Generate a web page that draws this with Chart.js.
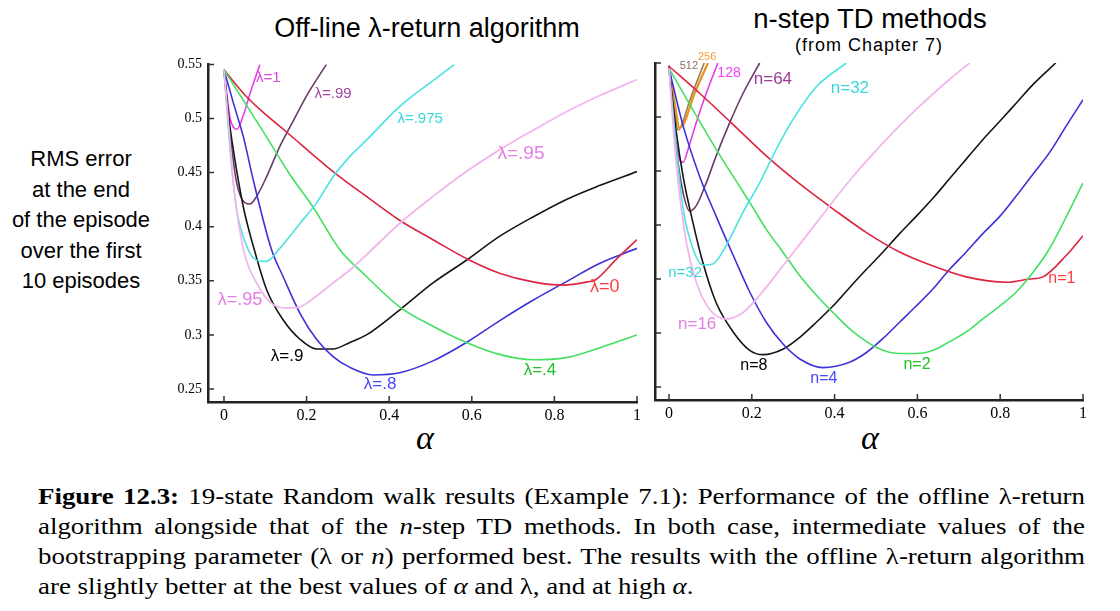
<!DOCTYPE html>
<html>
<head>
<meta charset="utf-8">
<script src="https://cdn.jsdelivr.net/npm/chart.js@4.4.1/dist/chart.umd.min.js"></script>
<style>
    html, body { margin: 0; padding: 0; background: #fff; }
    body { width: 1120px; height: 611px; position: relative; overflow: hidden; font-family: "Liberation Sans", Arial, sans-serif; }
    .abs { position: absolute; }
    #chart-left { left: 158px; top: 50px; }
    #chart-right { left: 605px; top: 50px; }
    .title { color: #000; text-align: center; white-space: nowrap; }
    .ylabel { left: 0; top: 144px; width: 162px; text-align: center; font-size: 22px; line-height: 30.5px; }
    .alpha { font-family: "Liberation Serif", serif; font-style: italic; font-size: 34px; }
    .caption { left: 38px; top: 481px; width: 934px; transform: scaleX(1.121); transform-origin: 0 0; font-family: "Liberation Serif", serif; font-size: 24px; line-height: 30px; color: #000; }
    .caption div { text-align: justify; text-align-last: justify; white-space: nowrap; }
    .caption div.last { text-align-last: left; }
    .caption i { font-style: italic; }
</style>
</head>
<body>

<div class="abs title" style="left:427px; top:13px; transform:translateX(-50%); font-size:27px;">Off-line λ-return algorithm</div>
<div class="abs title" style="left:870px; top:3px; transform:translateX(-50%); font-size:27.5px;">n-step TD methods</div>
<div class="abs title" style="left:869px; top:35px; transform:translateX(-50%); font-size:18px; letter-spacing:1px;">(from Chapter 7)</div>

<div class="abs ylabel">RMS error<br>at the end<br>of the episode<br>over the first<br>10 episodes</div>

<div class="abs alpha" style="left:416px; top:419px;">α</div>
<div class="abs alpha" style="left:861px; top:419px;">α</div>

<canvas id="chart-left" class="abs" width="490" height="380"></canvas>
<canvas id="chart-right" class="abs" width="490" height="380"></canvas>

<div class="abs caption">
    <div><b>Figure 12.3:</b> 19-state Random walk results (Example 7.1): Performance of the offline λ-return</div>
    <div>algorithm alongside that of the <i>n</i>-step TD methods. In both case, intermediate values of the</div>
    <div>bootstrapping parameter (λ or <i>n</i>) performed best. The results with the offline λ-return algorithm</div>
    <div class="last">are slightly better at the best values of <i>α</i> and λ, and at high <i>α</i>.</div>
</div>

<script>
// ---- data: [alpha, RMS error] ----
const xTicks = [0, 0.2, 0.4, 0.6, 0.8, 1];
const xTickLabels = ['0', '0.2', '0.4', '0.6', '0.8', '1'];
const yTicks = [0.25, 0.3, 0.35, 0.4, 0.45, 0.5, 0.55];
const yTickLabels = ['0.25', '0.3', '0.35', '0.4', '0.45', '0.5', '0.55'];

// off-line lambda-return
const lambda0 = [[0,0.545],[0.05,0.522],[0.1,0.504],[0.15,0.488],[0.264,0.451],[0.345,0.428],[0.425,0.406],[0.506,0.388],[0.6,0.368],[0.667,0.357],[0.748,0.349],[0.82,0.346],[0.88,0.349],[0.9,0.351],[0.95,0.37],[1,0.388]];
const lambda04 = [[0,0.545],[0.05,0.515],[0.103,0.483],[0.16,0.448],[0.216,0.418],[0.28,0.379],[0.345,0.354],[0.425,0.326],[0.506,0.308],[0.587,0.293],[0.667,0.282],[0.748,0.277],[0.828,0.279],[0.909,0.288],[1,0.3]];
const lambda08 = [[0,0.545],[0.023,0.514],[0.047,0.483],[0.071,0.443],[0.115,0.379],[0.143,0.354],[0.184,0.32],[0.224,0.296],[0.264,0.28],[0.305,0.27],[0.361,0.263],[0.425,0.265],[0.506,0.276],[0.587,0.293],[0.667,0.313],[0.748,0.332],[0.828,0.349],[0.909,0.366],[1,0.38]];
const lambda09 = [[0,0.545],[0.012,0.5],[0.023,0.47],[0.047,0.418],[0.071,0.382],[0.103,0.342],[0.143,0.314],[0.184,0.296],[0.224,0.287],[0.264,0.287],[0.305,0.293],[0.345,0.3],[0.425,0.323],[0.506,0.348],[0.587,0.369],[0.667,0.391],[0.748,0.409],[0.828,0.425],[0.909,0.438],[1,0.451]];
const lambda095 = [[0,0.545],[0.012,0.49],[0.023,0.44],[0.047,0.379],[0.079,0.348],[0.119,0.328],[0.151,0.325],[0.184,0.326],[0.224,0.336],[0.264,0.348],[0.305,0.36],[0.345,0.374],[0.425,0.403],[0.506,0.428],[0.587,0.451],[0.667,0.471],[0.748,0.489],[0.828,0.506],[0.909,0.521],[1,0.536]];
const lambda0975 = [[0,0.545],[0.015,0.47],[0.031,0.415],[0.055,0.382],[0.079,0.369],[0.103,0.368],[0.135,0.38],[0.184,0.403],[0.224,0.422],[0.264,0.446],[0.305,0.465],[0.345,0.48],[0.425,0.511],[0.506,0.535],[0.558,0.55]];
const lambda099 = [[0,0.545],[0.015,0.485],[0.031,0.44],[0.051,0.422],[0.063,0.421],[0.079,0.428],[0.103,0.446],[0.135,0.474],[0.168,0.498],[0.2,0.521],[0.248,0.55]];
const lambda1 = [[0,0.545],[0.015,0.5],[0.023,0.492],[0.031,0.49],[0.047,0.503],[0.063,0.523],[0.087,0.55]];

// n-step TD
const n1 = [[0,0.547],[0.074,0.522],[0.155,0.493],[0.235,0.464],[0.316,0.438],[0.396,0.415],[0.477,0.393],[0.557,0.375],[0.638,0.362],[0.718,0.352],[0.815,0.347],[0.87,0.35],[0.903,0.352],[0.96,0.372],[1,0.39]];
const n2 = [[0,0.545],[0.074,0.496],[0.114,0.47],[0.155,0.445],[0.195,0.421],[0.235,0.396],[0.275,0.375],[0.316,0.353],[0.356,0.335],[0.396,0.319],[0.436,0.304],[0.477,0.292],[0.517,0.284],[0.557,0.281],[0.597,0.281],[0.638,0.284],[0.678,0.292],[0.718,0.301],[0.758,0.313],[0.799,0.325],[0.839,0.338],[0.879,0.356],[0.919,0.378],[0.96,0.408],[1,0.439]];
const n4 = [[0,0.545],[0.034,0.492],[0.074,0.445],[0.114,0.408],[0.155,0.372],[0.195,0.338],[0.235,0.31],[0.275,0.29],[0.316,0.276],[0.372,0.268],[0.436,0.273],[0.477,0.282],[0.517,0.295],[0.557,0.31],[0.597,0.325],[0.638,0.341],[0.678,0.359],[0.718,0.375],[0.758,0.392],[0.799,0.408],[0.839,0.427],[0.879,0.447],[0.919,0.467],[0.96,0.492],[1,0.516]];
const n8 = [[0,0.545],[0.018,0.485],[0.034,0.445],[0.058,0.402],[0.082,0.365],[0.114,0.328],[0.155,0.301],[0.195,0.284],[0.227,0.28],[0.275,0.285],[0.316,0.296],[0.356,0.31],[0.396,0.325],[0.436,0.342],[0.477,0.359],[0.517,0.375],[0.557,0.392],[0.597,0.408],[0.638,0.425],[0.678,0.443],[0.718,0.461],[0.758,0.479],[0.799,0.496],[0.839,0.513],[0.879,0.53],[0.934,0.55]];
const n16 = [[0,0.545],[0.018,0.455],[0.042,0.384],[0.066,0.347],[0.098,0.322],[0.138,0.313],[0.179,0.319],[0.219,0.335],[0.275,0.362],[0.356,0.402],[0.436,0.441],[0.517,0.476],[0.597,0.507],[0.678,0.535],[0.726,0.55]];
const n32 = [[0,0.545],[0.018,0.47],[0.034,0.415],[0.058,0.378],[0.082,0.363],[0.106,0.364],[0.138,0.381],[0.179,0.412],[0.219,0.439],[0.259,0.47],[0.3,0.498],[0.356,0.528],[0.428,0.55]];
const n64 = [[0,0.547],[0.018,0.47],[0.034,0.43],[0.05,0.413],[0.066,0.418],[0.09,0.439],[0.114,0.464],[0.147,0.495],[0.179,0.522],[0.219,0.55]];
const n128 = [[0,0.547],[0.014,0.485],[0.026,0.461],[0.034,0.458],[0.046,0.47],[0.066,0.495],[0.09,0.522],[0.118,0.55]];
const n256 = [[0,0.545],[0.015,0.51],[0.025,0.49],[0.035,0.493],[0.06,0.52],[0.094,0.55]];
const n512 = [[0,0.548],[0.012,0.51],[0.022,0.488],[0.03,0.492],[0.05,0.515],[0.085,0.55]];

// curve labels: [text, alpha, rms]
const leftLabels = [
    ['λ=1', 0.107, 0.538], ['λ=.99', 0.264, 0.523], ['λ=.975', 0.475, 0.5],
    ['λ=.95', 0.719, 0.467], ['λ=.95', 0.039, 0.332], ['λ=0', 0.922, 0.344],
    ['λ=.9', 0.153, 0.28], ['λ=.8', 0.378, 0.254], ['λ=.4', 0.765, 0.267]
];
const rightLabels = [
    ['512', 0.048, 0.547], ['256', 0.092, 0.556], ['128', 0.145, 0.541],
    ['n=64', 0.251, 0.535], ['n=32', 0.437, 0.527], ['n=32', 0.039, 0.356],
    ['n=16', 0.068, 0.308], ['n=8', 0.205, 0.27], ['n=4', 0.374, 0.258],
    ['n=2', 0.599, 0.271], ['n=1', 0.949, 0.35]
];

// ---- styling ----
const RED = '#dc2440', GREEN = '#44e062', BLUE = '#3c32d8', BLACK = '#151515',
      PINK = '#f2b6ec', CYAN = '#4ae2e2', PURPLE = '#6c3a66', MAGENTA = '#e83ce8',
      ORANGE = '#e89020', BROWN = '#a07850';

const leftLabelStyle = [
    { color: '#e040e0', size: 15 }, { color: '#a04aa0', size: 15 }, { color: '#38d8d8', size: 15 },
    { color: '#e47ce4', size: 19 }, { color: '#e47ce4', size: 18 }, { color: '#ff3b3b', size: 18 },
    { color: '#000', size: 17 }, { color: '#4646ff', size: 17 }, { color: '#22c022', size: 17 }
];
const rightLabelStyle = [
    { color: '#8a7060', size: 11 }, { color: '#f59a3c', size: 11 }, { color: '#f040f0', size: 14 },
    { color: '#9a3c9a', size: 17 }, { color: '#38d8d8', size: 17 }, { color: '#38d8d8', size: 15 },
    { color: '#e080e0', size: 17 }, { color: '#000', size: 16 }, { color: '#4646ff', size: 16 },
    { color: '#22c022', size: 16 }, { color: '#ff3b3b', size: 16 }
];

const toPoints = arr => arr.map(([x, y]) => ({ x, y }));

function series(data, color, width) {
    return {
        data: toPoints(data),
        borderColor: color,
        borderWidth: width || 1.6,
        pointRadius: 0,
        cubicInterpolationMode: 'monotone',
        fill: false
    };
}

// inward tick marks, like the original plot
const inwardTicks = {
    id: 'inwardTicks',
    afterDraw(chart) {
        const { ctx, chartArea, scales: { x, y } } = chart;
        ctx.save();
        ctx.strokeStyle = '#333';
        ctx.lineWidth = 1.5;
        ctx.beginPath();
        x.ticks.forEach((t, i) => {
            const px = x.getPixelForTick(i);
            ctx.moveTo(px, chartArea.bottom);
            ctx.lineTo(px, chartArea.bottom - 6);
        });
        y.ticks.forEach((t, i) => {
            const py = y.getPixelForTick(i);
            ctx.moveTo(chartArea.left, py);
            ctx.lineTo(chartArea.left + 6, py);
        });
        ctx.stroke();
        ctx.restore();
    }
};

const curveLabels = {
    id: 'curveLabels',
    afterDatasetsDraw(chart, args, opts) {
        const { ctx, scales: { x, y } } = chart;
        ctx.save();
        ctx.textAlign = 'center';
        ctx.textBaseline = 'middle';
        (opts.items || []).forEach(([text, ax, ay], i) => {
            const st = opts.styles[i];
            ctx.font = st.size + 'px "Liberation Sans", Arial, sans-serif';
            ctx.fillStyle = st.color;
            ctx.fillText(text, x.getPixelForValue(ax), y.getPixelForValue(ay));
        });
        ctx.restore();
    }
};

function makeChart(id, datasets, cfg) {
    return new Chart(document.getElementById(id), {
        type: 'line',
        data: { datasets },
        options: {
            responsive: false,
            animation: false,
            devicePixelRatio: 1,
            layout: { padding: cfg.padding },
            plugins: {
                legend: { display: false },
                tooltip: { enabled: false },
                curveLabels: { items: cfg.labels, styles: cfg.labelStyles }
            },
            scales: {
                x: {
                    type: 'linear',
                    min: cfg.xMin,
                    max: 1,
                    afterBuildTicks: s => { s.ticks = xTicks.map(v => ({ value: v })); },
                    afterFit: s => { s.height = cfg.xHeight; },
                    grid: { display: false, drawTicks: false },
                    border: { display: true, color: '#222', width: 2.5 },
                    ticks: {
                        padding: 4,
                        maxRotation: 0,
                        color: '#000',
                        font: { family: '"Liberation Serif", serif', size: 16 },
                        callback: (v, i) => xTickLabels[i]
                    }
                },
                y: {
                    type: 'linear',
                    min: 0.238,
                    max: 0.55,
                    afterBuildTicks: s => { s.ticks = yTicks.map(v => ({ value: v })); },
                    afterFit: s => { s.width = 50; },
                    grid: { display: false, drawTicks: false },
                    border: { display: true, color: '#222', width: 2.5 },
                    ticks: {
                        display: cfg.yLabels,
                        padding: 6,
                        color: '#000',
                        font: { family: '"Liberation Serif", serif', size: 14 },
                        callback: (v, i) => yTickLabels[i]
                    }
                }
            }
        },
        plugins: [inwardTicks, curveLabels]
    });
}

makeChart('chart-left', [
    series(lambda095, PINK, 1.8),
    series(lambda0975, CYAN),
    series(lambda04, GREEN),
    series(lambda0, RED),
    series(lambda08, BLUE),
    series(lambda09, BLACK),
    series(lambda099, PURPLE),
    series(lambda1, MAGENTA)
], {
    padding: { left: 0, top: 14, right: 11, bottom: 0 },
    xMin: -0.0387, xHeight: 28, yLabels: true,
    labels: leftLabels, labelStyles: leftLabelStyle
});

makeChart('chart-right', [
    series(n16, PINK, 1.8),
    series(n32, CYAN),
    series(n2, GREEN),
    series(n1, RED),
    series(n4, BLUE),
    series(n8, BLACK),
    series(n64, PURPLE),
    series(n128, MAGENTA),
    series(n256, ORANGE, 2.2),
    series(n512, BROWN)
], {
    padding: { left: 0, top: 13, right: 12, bottom: 0 },
    xMin: -0.0338, xHeight: 30, yLabels: false,
    labels: rightLabels, labelStyles: rightLabelStyle
});
</script>
</body>
</html>
